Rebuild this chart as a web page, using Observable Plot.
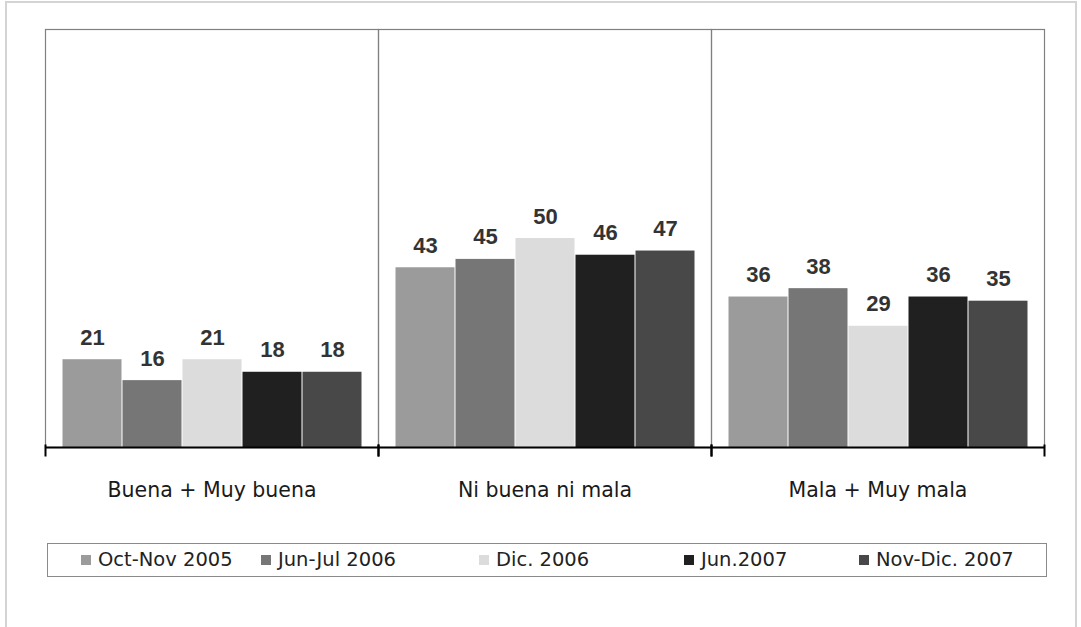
<!DOCTYPE html>
<html>
<head>
<meta charset="utf-8">
<script src="https://cdn.jsdelivr.net/npm/d3@7"></script>
<script src="https://cdn.jsdelivr.net/npm/@observablehq/plot@0.6"></script>
<style>
  body { margin: 0; background: #fff; }
  #wrap { position: relative; width: 1081px; height: 627px; overflow: hidden; font-family: "DejaVu Sans", sans-serif; }
  #page { position: absolute; left: 5px; top: 1px; width: 1072px; height: 700px; border: 2px solid #d4d4d4; box-sizing: border-box; }
  #chart { position: absolute; left: 0; top: 0; }
  #legend { position: absolute; left: 47px; top: 543px; width: 1000px; height: 34px; border: 1.5px solid #8a8a8a; box-sizing: border-box; }
  .item { position: absolute; top: 0; height: 31px; display: flex; align-items: center; font-size: 19.5px; color: #222; white-space: nowrap; }
  .sw { width: 10px; height: 10px; margin-right: 7px; }
</style>
</head>
<body>
<div id="wrap">
  <div id="page"></div>
  <div id="chart"></div>
  <div id="legend"></div>
</div>
<script>
const groups = ["Buena + Muy buena", "Ni buena ni mala", "Mala + Muy mala"];
const series = ["Oct-Nov 2005", "Jun-Jul 2006", "Dic. 2006", "Jun.2007", "Nov-Dic. 2007"];
const colors = ["#9b9b9b", "#767676", "#dcdcdc", "#202020", "#484848"];
const buena = [21, 16, 21, 18, 18];
const niBuenaNiMala = [43, 45, 50, 46, 47];
const mala = [36, 38, 29, 36, 35];
const legendLeft = [33, 213, 431, 636, 811];

const valuesByGroup = [buena, niBuenaNiMala, mala];
const data = groups.flatMap((g, i) => series.map((s, j) => ({group: g, series: s, value: valuesByGroup[i][j]})));

const chart = Plot.plot({
  width: 1081,
  height: 530,
  marginLeft: 45,
  marginRight: 37,
  marginTop: 29,
  marginBottom: 83,
  style: {fontFamily: "DejaVu Sans, sans-serif", background: "transparent"},
  fx: {domain: groups, padding: 0, label: null},
  x: {domain: series, paddingInner: 0, paddingOuter: 0.235, axis: null},
  y: {domain: [0, 100], axis: null},
  color: {domain: series, range: colors},
  marks: [
    Plot.frame({stroke: "#808080", strokeWidth: 1.2}),
    Plot.barY(data, {fx: "group", x: "series", y: "value", fill: "series", insetLeft: 0.5, insetRight: 0.5}),
    Plot.text(data, {fx: "group", x: "series", y: "value", text: "value", dy: -22, fontSize: 22, fontWeight: "bold", fill: "#333", fontFamily: "Liberation Sans, Arial, sans-serif"}),
    Plot.ruleY([0], {stroke: "#000", strokeWidth: 2}),
    Plot.frame({anchor: "left", stroke: "#000", strokeWidth: 2, insetTop: 416, insetBottom: -8}),
    Plot.frame({anchor: "right", stroke: "#000", strokeWidth: 2, insetTop: 416, insetBottom: -8}),
    Plot.axisFx({anchor: "bottom", tickSize: 0, tickPadding: 35, fontSize: 20.5, fill: "#1a1a1a", label: null})
  ]
});
document.getElementById("chart").appendChild(chart);

const legend = document.getElementById("legend");
series.forEach((s, i) => {
  const it = document.createElement("div");
  it.className = "item";
  it.style.left = legendLeft[i] + "px";
  const sw = document.createElement("span");
  sw.className = "sw";
  sw.style.background = colors[i];
  it.appendChild(sw);
  it.appendChild(document.createTextNode(s));
  legend.appendChild(it);
});
</script>
</body>
</html>
